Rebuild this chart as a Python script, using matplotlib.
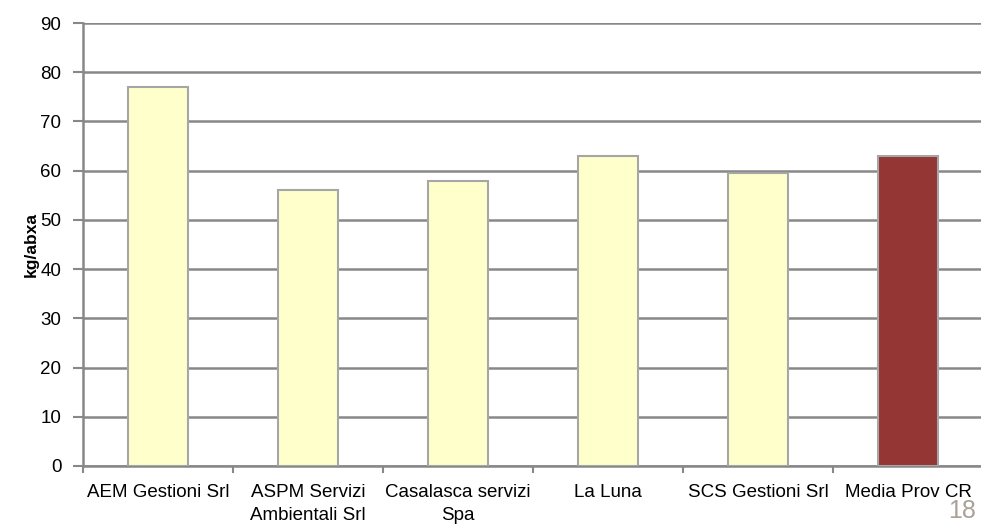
import matplotlib.pyplot as plt
import numpy as np

plt.rcParams['font.family'] = ['Liberation Sans Narrow', 'Liberation Sans', 'DejaVu Sans']

categories = ["AEM Gestioni Srl", "ASPM Servizi\nAmbientali Srl", "Casalasca servizi\nSpa",
              "La Luna", "SCS Gestioni Srl", "Media Prov CR"]
values = [77, 56, 58, 63, 59.5, 63]
colors = ["#FFFFCC"] * 5 + ["#943634"]

fig = plt.figure(figsize=(9.81, 5.29), dpi=100)
ax = fig.add_axes([83 / 981, 63 / 529, 900 / 981, 443 / 529])

x = np.arange(len(categories))
ax.bar(x, values, width=0.4, color=colors, edgecolor="#A6A6A6", linewidth=1.5, zorder=3)

ax.set_xlim(-0.5, len(categories) - 0.5)
ax.set_ylim(0, 90)
ax.set_yticks(np.arange(0, 91, 10))
ax.set_xticks(x)
ax.set_xticklabels(categories, fontsize=13.5, linespacing=1.45)
ax.set_xticks(np.arange(-0.5, len(categories), 1), minor=True)
ax.tick_params(axis='x', which='major', length=0, pad=13)
ax.tick_params(axis='x', which='minor', length=5, color="#888888", width=1.5)
ax.tick_params(axis='y', length=7, color="#888888", width=1.5, labelsize=13.5, pad=8.5)

ax.yaxis.grid(True, color="#888888", linewidth=1.8, zorder=0)
ax.set_axisbelow(True)
for s in ["top", "right"]:
    ax.spines[s].set_visible(False)
for s in ["left", "bottom"]:
    ax.spines[s].set_color("#888888")
    ax.spines[s].set_linewidth(1.8)

ax.set_ylabel("kg/abxa", fontsize=12.5, fontweight='bold', labelpad=1)

fig.text(962 / 981, 1 - 511 / 529, "18", fontsize=18, color="#A8A298",
         ha='center', va='center', family='Liberation Sans')

plt.savefig('out.png', dpi=100)
